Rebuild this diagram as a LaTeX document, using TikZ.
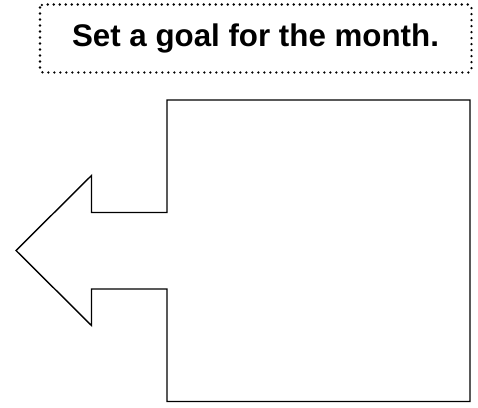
\documentclass[tikz,border=0pt]{standalone}
\usepackage{fontspec}
\setmainfont{Liberation Sans}
\begin{document}
\begin{tikzpicture}[x=1pt,y=-1pt,
  goalbox/.style={draw, line width=2.6pt, line cap=round, dash pattern=on 0pt off 6pt, rounded corners=3pt},
  outline/.style={draw, line width=1.4pt, line join=miter}]
\useasboundingbox (0,0) rectangle (478,407);
\draw[goalbox] (40,4.5) rectangle (471.5,72.5);
\node[font=\bfseries\fontsize{31.3}{36}\selectfont, inner sep=0pt] (goal) at (255.5,38.5) {Set a goal for the month.};
\draw[outline] (167,100) coordinate (tl) -- (470,100) -- (470,401.5) -- (167,401.5) -- (167,289) -- (91.5,289) -- (91.5,325.5) -- (16,250.5) coordinate (tip) -- (91.5,175.5) -- (91.5,212.5) -- (167,212.5) -- cycle;
\end{tikzpicture}
\end{document}
